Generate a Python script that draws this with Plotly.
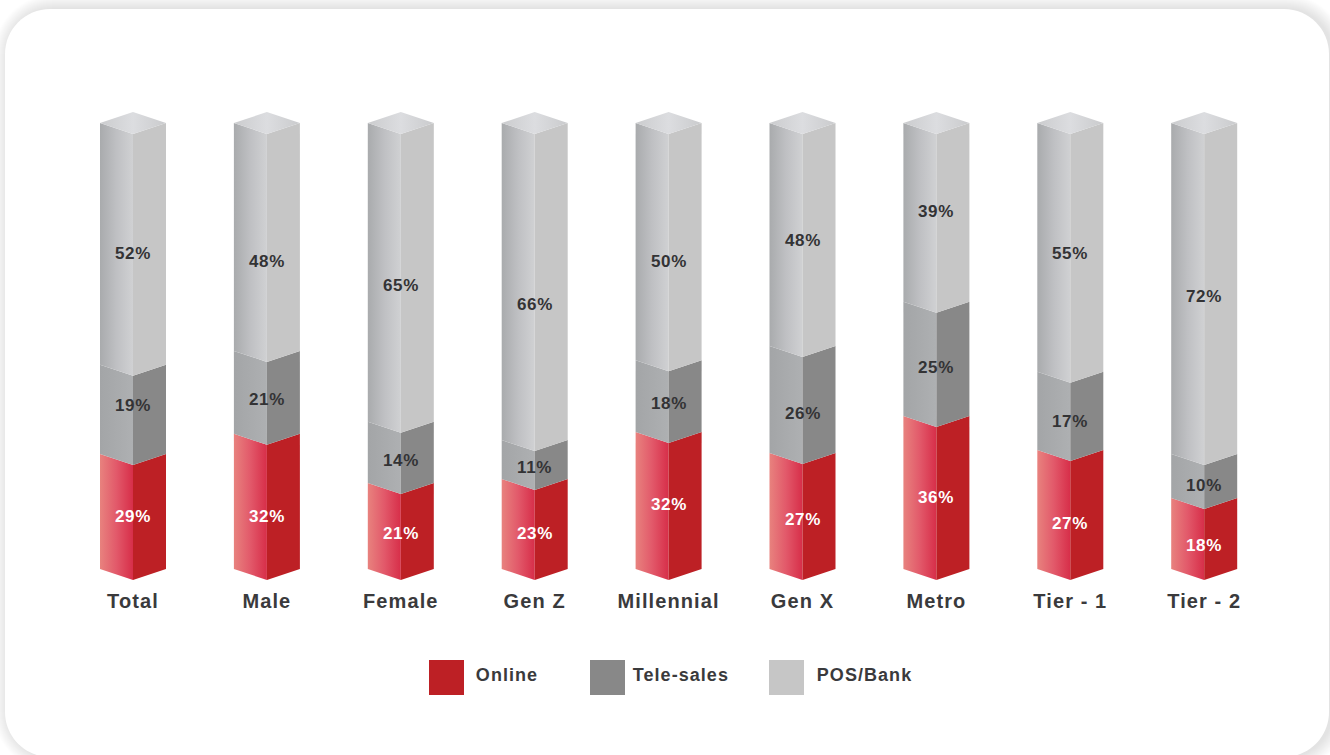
import plotly.graph_objects as go

# ---- data ----
categories = ["Total", "Male", "Female", "Gen Z", "Millennial", "Gen X", "Metro", "Tier - 1", "Tier - 2"]
series_names = ["Online", "Tele-sales", "POS/Bank"]
# printed labels
online_labels = [29, 32, 21, 23, 32, 27, 36, 27, 18]
tele_labels = [19, 21, 14, 11, 18, 26, 25, 17, 10]
pos_labels = [52, 48, 65, 66, 50, 48, 39, 55, 72]
# drawn height of each segment (share of column)
online_drawn = [25.8, 30.3, 19.3, 20.2, 30.7, 26.0, 34.3, 26.7, 15.9]
tele_drawn = [20.0, 18.6, 13.7, 8.7, 16.1, 24.0, 25.6, 17.5, 9.9]
pos_drawn = [54.2, 51.1, 67.0, 71.1, 53.2, 50.0, 40.1, 55.8, 74.2]
# label nudges in pixels, relative to the middle of the segment
online_nudge = [6.5, -3.5, 4, 2, 7.5, 3, 6.5, -2.5, -0.5]
tele_nudge = [15.5, 4.5, 3.5, 3.5, 4, -2.5, 3, 1, 2]
pos_nudge = [2, -13, -1.5, -11.5, -8.5, 5.5, 12.5, 5.5, 3.5]

# ---- style ----
W, H = 1330, 755
PLOT_BOTTOM = 587
PX_PER_X = 133.9
PX_PER_Y = 4.46
HALF = 33 / PX_PER_X
DY = 11 / PX_PER_Y
TEXT = "#3a3a3c"
FONT = "Liberation Sans"
right_colors = ["#bd2025", "#888888", "#c6c6c6"]
legend_colors = ["#bd2025", "#888888", "#c6c6c6"]
left_scales = [
    [[0, "#e8827e"], [0.5, "#e2596a"], [1, "#d72e49"]],
    [[0, "#a3a5a7"], [1, "#aeb0b2"]],
    [[0, "#a9abad"], [0.5, "#bfc0c3"], [1, "#d0d1d3"]],
]
top_scale = [[0, "#cbccce"], [0.5, "#dcdde0"], [1, "#cacbcd"]]
label_colors = ["#ffffff", "#333335", "#333335"]

fig = go.Figure()


def poly(xs, ys, name, fillcolor=None, gradient=None):
    kw = {"fillgradient": dict(type="horizontal", colorscale=gradient)} if gradient else {"fillcolor": fillcolor}
    fig.add_trace(go.Scatter(x=xs, y=ys, mode="lines", fill="toself", line=dict(width=0),
                             name=name, showlegend=False, hoverinfo="skip", **kw))


annotations = []
drawn = [online_drawn, tele_drawn, pos_drawn]
labels = [online_labels, tele_labels, pos_labels]
nudges = [online_nudge, tele_nudge, pos_nudge]
for i, cat in enumerate(categories):
    base = 0.0
    for s, name in enumerate(series_names):
        top = base + drawn[s][i]
        poly([i - HALF, i, i, i - HALF, i - HALF], [base + DY, base, top, top + DY, base + DY],
             f"{cat} {name}", gradient=left_scales[s])
        poly([i, i + HALF, i + HALF, i, i], [base, base + DY, top + DY, top, base],
             f"{cat} {name}", fillcolor=right_colors[s])
        annotations.append(dict(x=i, y=(base + top) / 2, xref="x", yref="y", text=f"{labels[s][i]}%",
                                showarrow=False, yshift=nudges[s][i] - 0.5,
                                font=dict(family=FONT, size=17, color=label_colors[s], weight="bold")))
        base = top
    poly([i - HALF, i, i + HALF, i, i - HALF], [base + DY, base + 2 * DY, base + DY, base, base + DY],
         f"{cat} top", gradient=top_scale)


# ---- page card and shadow ----
def X(p):
    return p / W


def Y(p):
    return (PLOT_BOTTOM - p) / PLOT_BOTTOM


def rounded(x0, y0, x1, y1, r):
    k = r * 0.448
    pts = [
        f"M{X(x0 + r)},{Y(y0)}", f"L{X(x1 - r)},{Y(y0)}",
        f"C{X(x1 - k)},{Y(y0)} {X(x1)},{Y(y0 + k)} {X(x1)},{Y(y0 + r)}",
        f"L{X(x1)},{Y(y1 - r)}",
        f"C{X(x1)},{Y(y1 - k)} {X(x1 - k)},{Y(y1)} {X(x1 - r)},{Y(y1)}",
        f"L{X(x0 + r)},{Y(y1)}",
        f"C{X(x0 + k)},{Y(y1)} {X(x0)},{Y(y1 - k)} {X(x0)},{Y(y1 - r)}",
        f"L{X(x0)},{Y(y0 + r)}",
        f"C{X(x0)},{Y(y0 + k)} {X(x0 + k)},{Y(y0)} {X(x0 + r)},{Y(y0)}Z",
    ]
    return "".join(pts)


shapes = []
for g in range(14, 0, -1):
    shapes.append(dict(type="path", xref="paper", yref="paper", layer="below", line=dict(width=0),
                       fillcolor="rgba(0,0,0,0.0065)",
                       path=rounded(5 - g + 3, 9 - g, 1329 + g + 3, 757 + g, 45 + g)))
shapes.append(dict(type="path", xref="paper", yref="paper", layer="below", line=dict(width=0),
                   fillcolor="#ffffff", path=rounded(5, 9, 1329, 757, 45)))

# ---- legend ----
legend_boxes = [429, 590, 769]
legend_texts = [476.5, 636, 819]
for name, color, bx, tx in zip(series_names, legend_colors, legend_boxes, legend_texts):
    shapes.append(dict(type="rect", xref="paper", yref="paper", line=dict(width=0), fillcolor=color,
                       x0=X(bx), x1=X(bx + 35), y0=Y(695), y1=Y(660)))
    annotations.append(dict(x=X(tx), y=Y(675), xref="paper", yref="paper", xanchor="left", yanchor="middle",
                            text=name, showarrow=False,
                            font=dict(family=FONT, size=18, color=TEXT, weight="bold")))

fig.update_layout(
    width=W, height=H, margin=dict(l=0, r=0, t=0, b=H - PLOT_BOTTOM, pad=0),
    paper_bgcolor="#ffffff", plot_bgcolor="rgba(0,0,0,0)", showlegend=False,
    shapes=shapes, annotations=annotations,
    xaxis=dict(range=[-133 / PX_PER_X, (W - 133) / PX_PER_X], tickvals=list(range(len(categories))),
               ticktext=categories, showgrid=False, zeroline=False, showline=False, ticks="", ticklen=0,
               tickfont=dict(family=FONT, size=20, color=TEXT, weight="bold"), fixedrange=True),
    yaxis=dict(range=[(580 - PLOT_BOTTOM) / PX_PER_Y, 580 / PX_PER_Y], visible=False, fixedrange=True),
)

# Letter spacing of the original lettering (Plotly has no font option for it).
post = """
document.body.style.margin='0';document.body.style.overflow='hidden';
document.querySelectorAll('.xtick text').forEach(function(t){t.style.letterSpacing='1.1px';});
document.querySelectorAll('.annotation-text').forEach(function(t){
  t.style.letterSpacing = t.textContent.indexOf('%') >= 0 ? '0.7px' : '1.05px';
});
"""
fig.write_html("out.html", config=dict(displayModeBar=False), post_script=post)
